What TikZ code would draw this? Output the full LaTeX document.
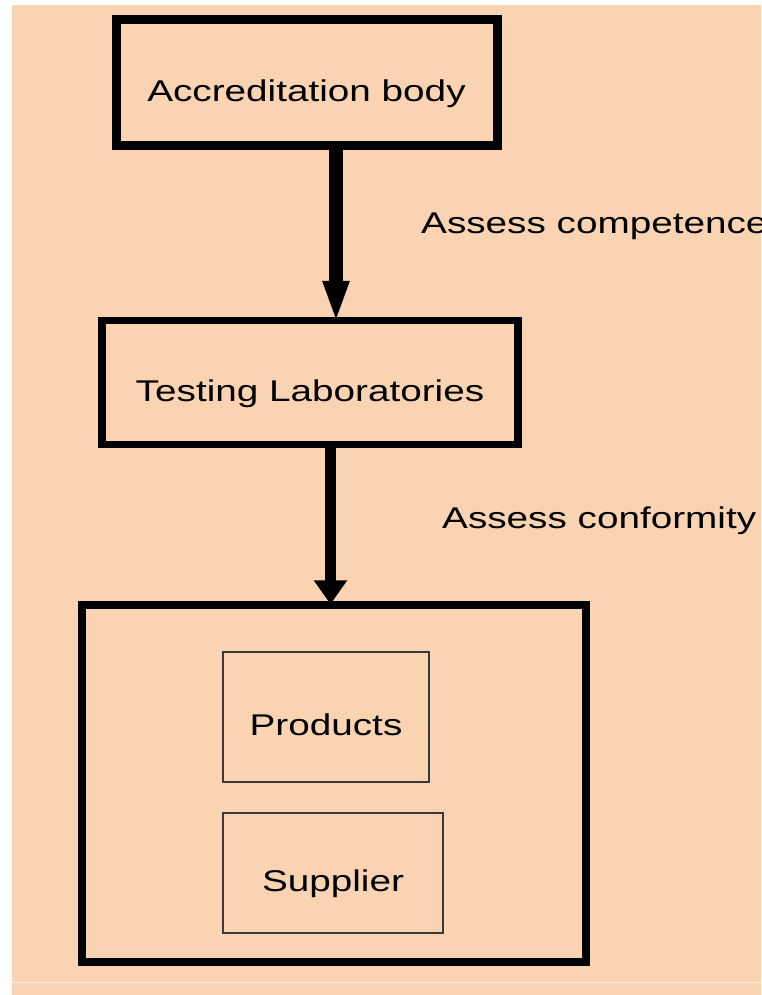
\documentclass[tikz,border=0pt]{standalone}
\usepackage{fontspec}
\newfontfamily\diagfont{Liberation Sans}[FakeStretch=1.29]
\usetikzlibrary{arrows.meta}
\definecolor{peach}{HTML}{FAD3B3}

\begin{document}
\begin{tikzpicture}[x=1pt, y=-1pt,
  font=\diagfont\fontsize{30}{36}\selectfont,
  unit/.style={draw, minimum width=#1, text height=37pt, text depth=0pt,
               inner sep=0pt, align=center},
  item/.style={draw=black!78, line width=2.2pt, text height=37pt,
               text depth=0pt, inner sep=0pt},
  flow/.style={anchor=base west, inner sep=0pt}]
\useasboundingbox (0,0) rectangle (761,995);
\fill[peach] (12,5) rectangle (761,995);
\draw[white!60!peach, line width=1pt] (12,982) -- (761,982);
\node[unit=381pt, line width=9pt, minimum height=126pt] (acc) at (306.5,83)
  {Accreditation body};
\node[unit=416pt, line width=7.5pt, minimum height=124pt] (lab) at (310,382.5)
  {Testing Laboratories};
\node[unit=504pt, line width=7.5pt, minimum height=357pt] (obj) at (334,783.5) {};
\node[item, minimum width=206pt, minimum height=130pt] (prod) at (326,717)
  {Products};
\node[item, minimum width=220pt, minimum height=120pt] (supp) at (333,873)
  {Supplier};
\draw[line width=14pt, -{Triangle[length=42pt, width=24pt]}, shorten >=-6pt]
  ([xshift=29.5pt]acc.south) -- ([xshift=29.5pt]acc.south |- lab.north);
\draw[line width=11pt, -{Triangle[length=24pt, width=32pt]}, shorten >=-3pt]
  ([xshift=20.5pt]lab.south) -- ([xshift=20.5pt]lab.south |- obj.north);
\node[flow] (compLbl) at (421,233) {Assess competence};
\node[flow] (confLbl) at (442,528) {Assess conformity};
\end{tikzpicture}
\end{document}
